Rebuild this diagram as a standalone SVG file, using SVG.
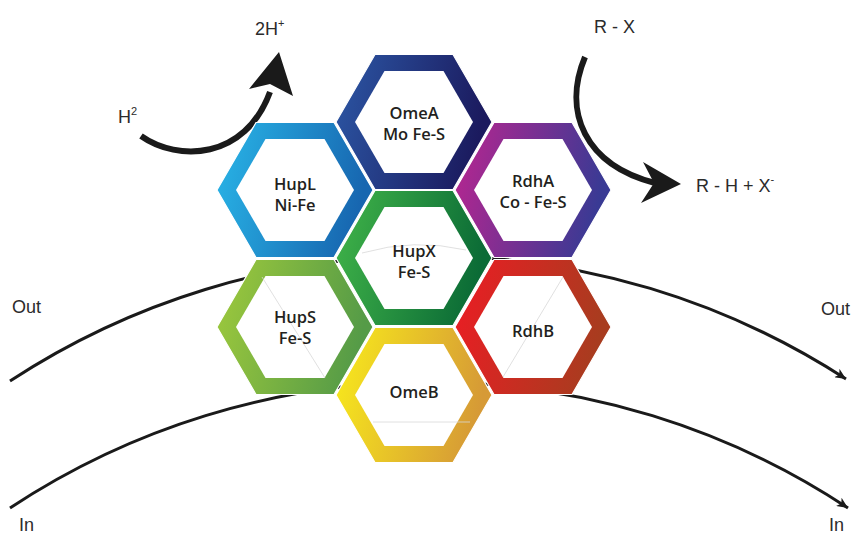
<svg xmlns="http://www.w3.org/2000/svg" xmlns:xlink="http://www.w3.org/1999/xlink" width="854" height="536" viewBox="0 0 854 536">
<style>
.lbl{font-family:"Liberation Sans",Arial,sans-serif;font-size:18px;fill:#2b2b2b}
.hx{font-family:"Open Sans","Noto Sans",sans-serif;font-weight:600;font-size:16.5px;fill:#231f20;text-anchor:middle}
.mem{fill:none;stroke:#1a1a1a;stroke-width:3}
.rx{fill:none;stroke:#1a1a1a;stroke-width:6}
.outer{stroke:#fff;stroke-width:1.2}
.inner{fill:#fff}
.faint{fill:none;stroke:#d8d8d8;stroke-width:0.8}
</style>
<defs>
<polygon id="ho" points="-78,0 -39,-67.5 39,-67.5 78,0 39,67.5 -39,67.5"/>
<polygon id="hi" points="-59,0 -29.5,-51 29.5,-51 59,0 29.5,51 -29.5,51"/>
<linearGradient id="gOmeA" x1="0" y1="0" x2="1" y2="0.2"><stop offset="0" stop-color="#2c57a5"/><stop offset="1" stop-color="#1b1a5e"/></linearGradient>
<linearGradient id="gHupL" x1="0" y1="0" x2="1" y2="0.2"><stop offset="0" stop-color="#29b6e8"/><stop offset="1" stop-color="#1766b0"/></linearGradient>
<linearGradient id="gRdhA" x1="0" y1="0" x2="1" y2="0.2"><stop offset="0" stop-color="#bb2590"/><stop offset="1" stop-color="#393a94"/></linearGradient>
<linearGradient id="gHupX" x1="0" y1="0" x2="1" y2="0.2"><stop offset="0" stop-color="#41b549"/><stop offset="1" stop-color="#0b6b36"/></linearGradient>
<linearGradient id="gHupS" x1="0" y1="0" x2="1" y2="0.2"><stop offset="0" stop-color="#9fca3c"/><stop offset="1" stop-color="#559b47"/></linearGradient>
<linearGradient id="gRdhB" x1="0" y1="0" x2="1" y2="0.2"><stop offset="0" stop-color="#ed1c24"/><stop offset="1" stop-color="#a83c1f"/></linearGradient>
<linearGradient id="gOmeB" x1="0" y1="0" x2="1" y2="0.2"><stop offset="0" stop-color="#f9ec1b"/><stop offset="1" stop-color="#d69a36"/></linearGradient>
<marker id="arr" markerUnits="userSpaceOnUse" markerWidth="12" markerHeight="10" refX="11" refY="5" orient="auto">
<path d="M0,0 L11,5 L0,10 L3,5 z" fill="#1a1a1a"/>
</marker>
</defs>

<g id="connectors">
<path id="membrane-out" class="mem" d="M10,381 A766,766 0 0 1 846,379" marker-end="url(#arr)"/>
<path id="membrane-in" class="mem" d="M10,508 A760,760 0 0 1 848,508" marker-end="url(#arr)"/>
<g id="h2-arrow">
<path class="rx" d="M141,136 C178,162 245,160 270,92"/>
<polygon points="279,52 293,96 270,84 249,89" fill="#1a1a1a"/>
</g>
<g id="rx-arrow">
<path class="rx" d="M585,57 C562,112 585,165 655,183"/>
<polygon points="681,184 641,203 654,183 643,162" fill="#1a1a1a"/>
</g>
</g>

<g id="OmeA" transform="translate(414,122)">
<use xlink:href="#ho" class="outer" fill="url(#gOmeA)"/><use xlink:href="#hi" class="inner"/>
<text class="hx" y="-3">OmeA</text><text class="hx" y="18">Mo Fe-S</text>
</g>
<g id="HupL" transform="translate(295,190)">
<use xlink:href="#ho" class="outer" fill="url(#gHupL)"/><use xlink:href="#hi" class="inner"/>
<text class="hx" y="0">HupL</text><text class="hx" y="21">Ni-Fe</text>
</g>
<g id="RdhA" transform="translate(533,190)">
<use xlink:href="#ho" class="outer" fill="url(#gRdhA)"/><use xlink:href="#hi" class="inner"/>
<text class="hx" y="-3">RdhA</text><text class="hx" y="18">Co - Fe-S</text>
</g>
<g id="HupX" transform="translate(414,258)">
<use xlink:href="#ho" class="outer" fill="url(#gHupX)"/><use xlink:href="#hi" class="inner"/>
<path class="faint" d="M-52,-5 Q0,-20 52,-8"/>
<text class="hx" y="-1">HupX</text><text class="hx" y="20">Fe-S</text>
</g>
<g id="HupS" transform="translate(295,327)">
<use xlink:href="#ho" class="outer" fill="url(#gHupS)"/><use xlink:href="#hi" class="inner"/>
<path class="faint" d="M-33,-50 L30,51"/>
<text class="hx" y="-4">HupS</text><text class="hx" y="17">Fe-S</text>
</g>
<g id="RdhB" transform="translate(533,327)">
<use xlink:href="#ho" class="outer" fill="url(#gRdhB)"/><use xlink:href="#hi" class="inner"/>
<path class="faint" d="M30,-50 L-30,50"/>
<text class="hx" y="10">RdhB</text>
</g>
<g id="OmeB" transform="translate(414,395)">
<use xlink:href="#ho" class="outer" fill="url(#gOmeB)"/><use xlink:href="#hi" class="inner"/>
<path class="faint" d="M-41,27 L56,27"/>
<text class="hx" y="3">OmeB</text>
</g>

<g id="labels">
<text class="lbl" x="255" y="35">2H<tspan font-size="11" dy="-8">+</tspan></text>
<text class="lbl" x="118" y="123">H<tspan font-size="11" dy="-8">2</tspan></text>
<text class="lbl" x="594" y="33" font-size="20">R - X</text>
<text class="lbl" x="696" y="192" font-size="19">R - H + X<tspan font-size="11" dy="-9">-</tspan></text>
<text class="lbl" x="12" y="313" font-size="17">Out</text>
<text class="lbl" x="821" y="315" font-size="17">Out</text>
<text class="lbl" x="19" y="531" font-size="17">In</text>
<text class="lbl" x="829" y="531" font-size="17">In</text>
</g>
</svg>
